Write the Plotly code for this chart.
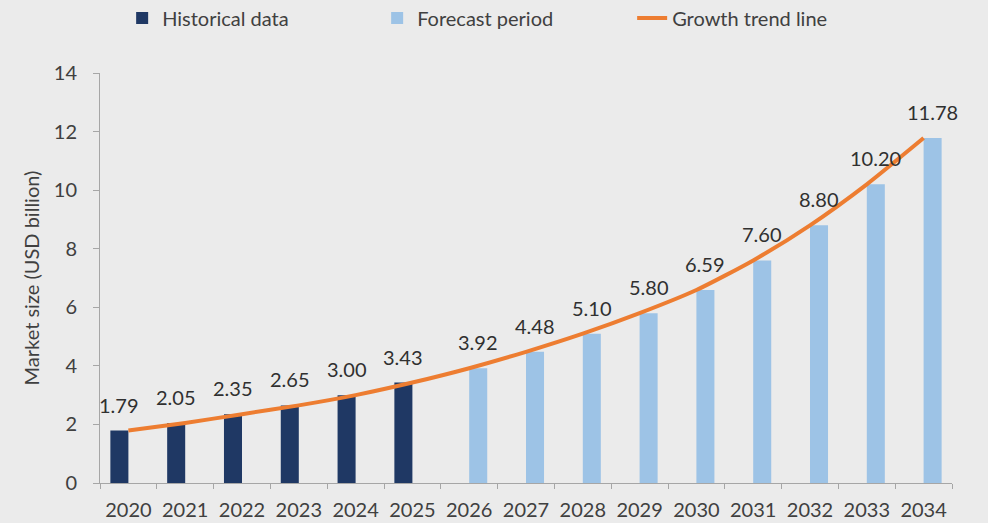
import plotly.graph_objects as go

years = [str(y) for y in range(2020, 2035)]
historical = [1.79, 2.05, 2.35, 2.65, 3.00, 3.43]
forecast = [3.92, 4.48, 5.10, 5.80, 6.59, 7.60, 8.80, 10.20, 11.78]
y_ticks = [0, 2, 4, 6, 8, 10, 12, 14]

n_hist = len(historical)
hist_full = historical + [None] * len(forecast)
fc_full = [None] * n_hist + forecast
trend = historical + forecast

FONT = "Lato"
TXT = "#404040"

fig = go.Figure()
fig.add_trace(go.Bar(x=years, y=hist_full, name="Historical data",
                     marker=dict(color="#1f3864", line=dict(width=0))))
fig.add_trace(go.Bar(x=years, y=fc_full, name="Forecast period",
                     marker=dict(color="#9dc3e6", line=dict(width=0))))
fig.add_trace(go.Scatter(x=years, y=trend, name="Growth trend line", mode="lines",
                         line=dict(color="#ed7d31", width=4, shape="spline", smoothing=0.6)))

annotations = []
for i, yr in enumerate(years):
    v = trend[i]
    shift = -9 if i < n_hist else 9
    annotations.append(dict(x=i, y=v, text=f"{v:.2f}", showarrow=False,
                            xref="x", yref="y", yanchor="bottom", xanchor="center",
                            xshift=shift, yshift=12,
                            font=dict(family=FONT, size=20, color="#303030")))

fig.update_layout(
    width=988, height=523,
    margin=dict(l=100, r=36, t=73, b=40, autoexpand=False),
    paper_bgcolor="#ebebeb", plot_bgcolor="#ebebeb",
    barmode="group", bargap=0.365, bargroupgap=0,
    font=dict(family=FONT, size=20, color=TXT),
    showlegend=True,
    legend=dict(orientation="h", x=0.026, xanchor="left", y=1.134, yanchor="middle",
                font=dict(family=FONT, size=20, color=TXT),
                bgcolor="rgba(0,0,0,0)", entrywidth=210, entrywidthmode="pixels",
                traceorder="normal"),
    annotations=annotations,
    xaxis=dict(type="category", categoryorder="array", categoryarray=years,
               range=[-0.5, len(years) - 0.5], automargin=False,
               showline=True, linecolor="#a6a6a6", linewidth=1,
               ticks="outside", tickson="boundaries", ticklen=5, tickcolor="#a6a6a6",
               ticklabelstandoff=9,
               tickfont=dict(family=FONT, size=20, color=TXT), showgrid=False,
               zeroline=False),
    yaxis=dict(range=[0, 14], tickvals=y_ticks, showline=True, linecolor="#a6a6a6",
               linewidth=1, ticks="outside", ticklen=6, tickcolor="#a6a6a6",
               ticklabelstandoff=12, automargin=False,
               tickfont=dict(family=FONT, size=20, color=TXT), showgrid=False,
               zeroline=False,
               title=dict(text="Market size (USD billion)", standoff=8,
                          font=dict(family=FONT, size=20, color=TXT))),
)

fig.write_html("out.html", config={"displayModeBar": False},
               post_script="document.body.style.margin='0';")
